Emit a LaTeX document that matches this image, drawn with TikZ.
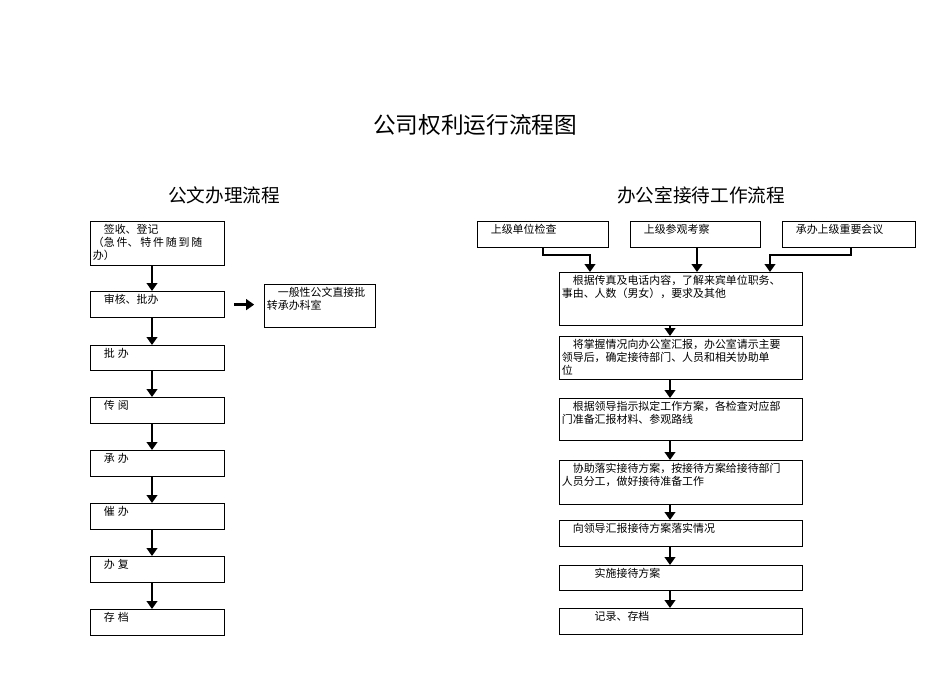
\documentclass[tikz,border=0pt]{standalone}
\usepackage{fontspec}
\setmainfont{Noto Sans CJK SC}
\usetikzlibrary{arrows.meta}
\tikzset{
 box/.style={draw,line width=0.9pt,inner sep=0pt,anchor=north west},
 txt/.style={anchor=north west,inner sep=2pt,font=\fontsize{8.2}{10}\selectfont,align=left},
 arr/.style={line width=2.2pt,-{Triangle[length=6pt,width=8pt]}},
}
\newcommand\bx[6]{\node[box,minimum width=#4*0.75pt,minimum height=#5*0.75pt] (#1) at (#2,#3) {};
 \node[txt] (#1t) at (#1.north west) {#6};}
\begin{document}
\begin{tikzpicture}[x=0.75pt,y=-0.75pt]
\useasboundingbox (0,0) rectangle (950,672);
\node[font=\fontsize{17}{20}\selectfont] (title) at (475,125) {公司权利运行流程图};
\node[font=\fontsize{14}{16}\selectfont] (lt) at (224,195) {公文办理流程};
\node[font=\fontsize{14}{16}\selectfont] (rt) at (701,195) {办公室接待工作流程};
% left
\bx{a1}{90}{221}{134}{44}{\quad 签收、登记\\（急\,件、\,特\,件\,随\,到\,随\\办）}
\bx{a2}{90}{291}{134}{26}{\quad 审核、批办}
\bx{a3}{90}{345}{134}{25}{\quad 批\;办}
\bx{a4}{90}{397}{134}{26}{\quad 传\;阅}
\bx{a5}{90}{450}{134}{26}{\quad 承\;办}
\bx{a6}{90}{503}{134}{26}{\quad 催\;办}
\bx{a7}{90}{556}{134}{26}{\quad 办\;复}
\bx{a8}{90}{609}{134}{26}{\quad 存\;档}
\bx{s1}{264}{284}{111}{43}{\quad 一般性公文直接批\\转承办科室}
\foreach \u/\v in {a1/a2,a2/a3,a3/a4,a4/a5,a5/a6,a6/a7,a7/a8}
  \draw[arr] (\u.south -| 152,0) -- (\v.north -| 152,0);
\draw[arr] (a2.east) ++(9,0) coordinate (h1) -- ++(20,0) coordinate (h2);
% right
\bx{t1}{477}{221}{131}{26}{\quad 上级单位检查}
\bx{t2}{630}{221}{130}{26}{\quad 上级参观考察}
\bx{t3}{782}{221}{133}{26}{\quad 承办上级重要会议}
\bx{b1}{559}{272}{243}{53}{\quad 根据传真及电话内容，了解来宾单位职务、\\事由、人数（男女），要求及其他}
\bx{b2}{559}{336}{243}{43}{\quad 将掌握情况向办公室汇报，办公室请示主要\\领导后，确定接待部门、人员和相关协助单\\位}
\bx{b3}{559}{398}{243}{42}{\quad 根据领导指示拟定工作方案，各检查对应部\\门准备汇报材料、参观路线}
\bx{b4}{559}{460}{243}{44}{\quad 协助落实接待方案，按接待方案给接待部门\\人员分工，做好接待准备工作}
\bx{b5}{559}{520}{243}{26}{\quad 向领导汇报接待方案落实情况}
\bx{b6}{559}{565}{243}{25}{\qquad\quad 实施接待方案}
\bx{b7}{559}{608}{243}{26}{\qquad\quad 记录、存档}
\foreach \u/\v in {b1/b2,b2/b3,b3/b4,b4/b5,b5/b6,b6/b7}
  \draw[arr] (\u.south -| 670,0) -- (\v.north -| 670,0);
\draw[arr] (t1.south -| 543,0) |- (590,255) -- (b1.north -| 590,0);
\draw[arr] (t2.south -| 697,0) -- (b1.north -| 697,0);
\draw[arr] (t3.south -| 851,0) |- (770,255) -- (b1.north -| 770,0);
\end{tikzpicture}
\end{document}
